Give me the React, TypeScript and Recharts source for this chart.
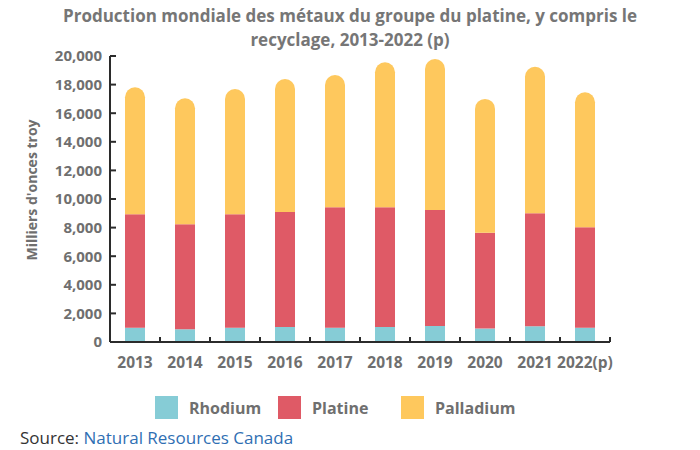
import { BarChart, Bar, XAxis, YAxis } from "recharts";

const years = ["2013", "2014", "2015", "2016", "2017", "2018", "2019", "2020", "2021", "2022(p)"];
const rhodium = [1000, 890, 1000, 1050, 1000, 1050, 1120, 940, 1100, 1000];
const platine = [7930, 7340, 7930, 8040, 8420, 8370, 8110, 6700, 7900, 7020];
const palladium = [8880, 8810, 8760, 9300, 9250, 10140, 10560, 9360, 10250, 9440];
const yTicks = [0, 2000, 4000, 6000, 8000, 10000, 12000, 14000, 16000, 18000, 20000];

const series = [
  { key: "rhodium", name: "Rhodium", color: "#86ccd6" },
  { key: "platine", name: "Platine", color: "#df5a66" },
  { key: "palladium", name: "Palladium", color: "#fec85d" },
];

const data = years.map((year, i) => ({
  year,
  rhodium: rhodium[i],
  platine: platine[i],
  palladium: palladium[i],
}));

const GREY = "#6f6f6f";
const AXIS = "#2b2b2b";
const FONT = "'Open Sans', sans-serif";
const HALF_BAND = 25;

const XTick = (props: any) => {
  const { x, y, payload } = props;
  return (
    <g>
      <line x1={x + HALF_BAND} x2={x + HALF_BAND} y1={y - 14} y2={y - 19} stroke={AXIS} strokeWidth={2} />
      <text x={x} y={y} dy={12} textAnchor="middle" fill={GREY} fontSize={15.5} fontWeight={700} fontFamily={FONT}>
        {payload.value}
      </text>
    </g>
  );
};

const YTitle = (props: any) => {
  const { viewBox } = props;
  const x = viewBox.x + 5;
  const y = viewBox.y + viewBox.height / 2 - 9;
  return (
    <text
      x={x}
      y={y}
      transform={`rotate(-90, ${x}, ${y})`}
      textAnchor="middle"
      dominantBaseline="central"
      fill={GREY}
      fontSize={14}
      fontWeight={700}
      fontFamily={FONT}
    >
      Milliers d'onces troy
    </text>
  );
};

const App = () => {
  return (
    <div style={{ position: "absolute", left: 0, top: 0, width: 700, height: 450, background: "#fff", fontFamily: FONT, overflow: "hidden" }}>
      <div
        style={{
          position: "absolute",
          left: 0,
          top: 4,
          width: 700,
          textAlign: "center",
          color: "#767676",
          fontSize: 17,
          fontWeight: 700,
          lineHeight: "24px",
        }}
      >
        Production mondiale des métaux du groupe du platine, y compris le
        <br />
        recyclage, 2013-2022 (p)
      </div>
      <BarChart
        width={700}
        height={450}
        data={data}
        margin={{ top: 56, right: 90, bottom: 78, left: 26 }}
        barCategoryGap="30%"
      >
        <XAxis
          dataKey="year"
          height={30}
          tick={<XTick />}
          tickLine={false}
          tickSize={0}
          tickMargin={14}
          axisLine={{ stroke: AXIS, strokeWidth: 2 }}
          interval={0}
        />
        <YAxis
          width={84}
          domain={[0, 20000]}
          ticks={yTicks}
          interval={0}
          tickSize={-6}
          tickMargin={14}
          tickFormatter={(v: number) => v.toLocaleString("en-US")}
          tick={{ fill: GREY, fontSize: 15, fontWeight: 700, fontFamily: FONT }}
          tickLine={{ stroke: AXIS, strokeWidth: 2 }}
          axisLine={{ stroke: AXIS, strokeWidth: 2 }}
          label={<YTitle />}
        />
        <Bar dataKey="rhodium" stackId="a" fill="#86ccd6" isAnimationActive={false} />
        <Bar dataKey="platine" stackId="a" fill="#df5a66" isAnimationActive={false} />
        <Bar dataKey="palladium" stackId="a" fill="#fec85d" radius={[18, 18, 0, 0]} isAnimationActive={false} />
      </BarChart>
      {/* legend */}
      <div style={{ position: "absolute", left: 155, top: 396, display: "flex" }}>
        {series.map((s) => (
          <div key={s.key} style={{ width: 123, display: "flex", alignItems: "center" }}>
            <div style={{ width: 23, height: 23, background: s.color, marginRight: 11 }} />
            <span style={{ color: GREY, fontSize: 16, fontWeight: 700 }}>{s.name}</span>
          </div>
        ))}
      </div>
      <div style={{ position: "absolute", left: 20, top: 428, fontSize: 17, lineHeight: "20px", color: "#333" }}>
        Source: <span style={{ color: "#2f6fb3" }}>Natural Resources Canada</span>
      </div>
    </div>
  );
};

export default App;
